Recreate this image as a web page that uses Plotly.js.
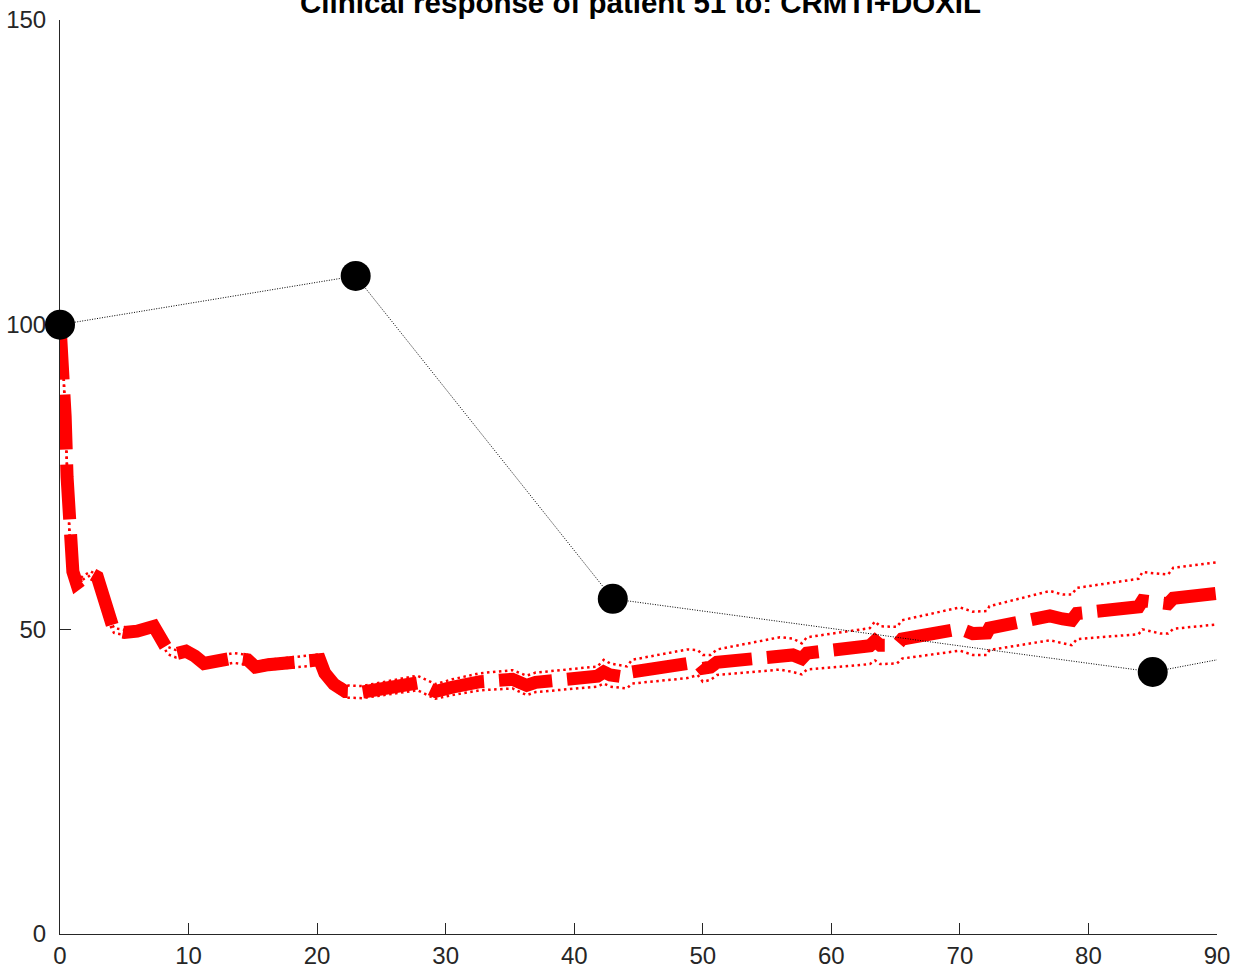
<!DOCTYPE html>
<html>
<head>
<meta charset="utf-8">
<script src="https://cdn.plot.ly/plotly-3.0.1.min.js"></script>
<style>html,body{margin:0;padding:0;background:#fff;}#chart{width:1241px;height:972px;}</style>
</head>
<body>
<div id="chart"></div>
<script>
// Observed clinical measurements (days, % of baseline)
var obsDays = [0, 23, 43, 85, 90];
var obsValues = [100, 108, 55, 43, 45];
var markerDays = [0, 23, 43, 85];
var markerValues = [100, 108, 55, 43];

// Model prediction (days)
var modelDays = [0, 0.25, 0.4, 0.55, 0.75, 1.0, 1.3, 1.8, 2.4, 2.9, 3.3, 3.8, 4.2, 5.0, 6.0, 7.3, 7.8, 8.4, 9.0, 9.8,
  10.5, 11.2, 13.5, 14.6, 15.2, 16.2, 20.2, 20.6, 21.3, 22.2, 23.5, 27.8, 28.5, 29.2, 30.5, 32.7, 35.2, 36.3, 37.0,
  41.8, 42.3, 42.8, 44.1, 44.5, 48.8, 49.6, 50.0, 50.6, 51.1, 56.0, 57.0, 57.7, 58.1, 63.0, 63.4, 63.8, 65.1, 65.5,
  70.0, 71.0, 72.1, 72.3, 77.0, 78.0, 78.7, 79.1, 83.9, 84.2, 85.6, 86.2, 86.6, 90.0];
var modelMean = [100, 93.5, 85, 75, 65, 59.5, 57.5, 58.5, 59.2, 58.6, 56, 51.5, 49.8, 49.5, 49.7, 50.5, 48.5, 46.5, 46.0, 46.4,
  45.6, 44.4, 45.3, 45.0, 43.8, 44.2, 45.0, 42.8, 41.0, 39.8, 39.7, 41.2, 40.5, 39.8, 40.5, 41.4, 41.8, 40.8, 41.3,
  42.3, 43.0, 42.5, 42.1, 43.0, 44.4, 44.6, 43.6, 43.8, 44.6, 46.0, 45.8, 45.2, 46.1, 47.3, 48.1, 47.4, 47.4, 48.4,
  50.1, 49.3, 49.4, 50.2, 52.2, 51.7, 51.5, 52.6, 53.7, 54.7, 54.2, 54.2, 55.1, 55.9];
var modelUpper = [100, 93.6, 85.2, 75.2, 65.3, 59.8, 57.8, 58.8, 59.5, 58.9, 56.3, 51.9, 50.2, 49.9, 50.2, 51.0, 49.0, 47.1, 46.6, 47.1,
  46.3, 45.1, 46.1, 45.8, 44.6, 45.0, 45.9, 43.7, 41.9, 40.8, 40.7, 42.4, 41.7, 41.0, 41.8, 42.8, 43.3, 42.4, 42.9,
  43.9, 45.0, 44.4, 43.9, 45.0, 46.7, 46.6, 45.8, 45.8, 46.7, 48.7, 48.5, 47.7, 48.7, 50.2, 51.3, 50.5, 50.4, 51.5,
  53.6, 52.9, 53.0, 53.8, 56.3, 55.7, 55.7, 56.8, 58.3, 59.4, 59.1, 59.0, 60.1, 61.0];
var modelLower = [100, 93.4, 84.8, 74.8, 64.7, 59.2, 57.2, 58.2, 58.9, 58.3, 55.7, 51.1, 49.4, 49.1, 49.2, 50.0, 48.0, 45.9, 45.4, 45.7,
  44.9, 43.7, 44.5, 44.2, 43.0, 43.4, 44.1, 41.9, 40.1, 38.8, 38.7, 40.0, 39.3, 38.6, 39.2, 40.0, 40.3, 39.2, 39.7,
  40.6, 41.1, 40.6, 40.3, 41.1, 42.0, 42.5, 41.4, 41.7, 42.5, 43.4, 43.0, 42.6, 43.4, 44.3, 44.9, 44.3, 44.4, 45.2,
  46.5, 45.8, 45.8, 46.6, 48.2, 47.7, 47.4, 48.4, 49.2, 50.0, 49.3, 49.3, 50.1, 50.8];

var xTicks = [0, 10, 20, 30, 40, 50, 60, 70, 80, 90];
var yTicks = [0, 50, 100, 150];
var titleText = 'Clinical response of patient 51 to: CRMTI+DOXIL';

var axisColor = '#262626';
var traces = [
  {x: modelDays, y: modelUpper, mode: 'lines', line: {color: '#ff0000', width: 2.5, dash: '2.5px,3.5px'}, hoverinfo: 'skip'},
  {x: modelDays, y: modelLower, mode: 'lines', line: {color: '#ff0000', width: 2.5, dash: '2.5px,3.5px'}, hoverinfo: 'skip'},
  {x: modelDays, y: modelMean, mode: 'lines', line: {color: '#ff0000', width: 13, dash: '55px,15px'}},
  {x: obsDays, y: obsValues, mode: 'lines', line: {color: '#000000', width: 1, dash: '1px,1.5px'}},
  {x: markerDays, y: markerValues, mode: 'markers', marker: {color: '#000000', size: 30, line: {width: 0}}, cliponaxis: false}
];

var layout = {
  width: 1241, height: 972,
  margin: {l: 60, r: 24, t: 20, b: 38, pad: 0},
  paper_bgcolor: '#ffffff', plot_bgcolor: '#ffffff',
  showlegend: false,
  font: {family: 'Liberation Sans, Arial, sans-serif', color: axisColor, size: 24},
  title: {
    text: '<b>' + titleText + '</b>',
    font: {family: 'Liberation Sans, Arial, sans-serif', size: 29.5, color: '#000000'},
    x: 640.5 / 1241, xanchor: 'center', xref: 'container',
    y: 1 - 2.2 / 972, yanchor: 'middle', yref: 'container'
  },
  xaxis: {
    range: [0, 90], tickvals: xTicks, ticktext: xTicks.map(String),
    ticks: 'inside', ticklen: 11, tickwidth: 1, tickcolor: axisColor,
    showline: true, linecolor: axisColor, linewidth: 1, mirror: false,
    showgrid: false, zeroline: false, layer: 'below traces',
    tickfont: {size: 24, color: axisColor}
  },
  yaxis: {
    range: [0, 150], tickvals: yTicks, ticktext: yTicks.map(String),
    ticks: 'inside', ticklen: 11, tickwidth: 1, tickcolor: axisColor,
    showline: true, linecolor: axisColor, linewidth: 1, mirror: false,
    showgrid: false, zeroline: false, layer: 'below traces',
    ticklabelstandoff: 8,
    tickfont: {size: 24, color: axisColor}
  }
};

Plotly.newPlot('chart', traces, layout, {staticPlot: true, displayModeBar: false});
</script>
</body>
</html>
